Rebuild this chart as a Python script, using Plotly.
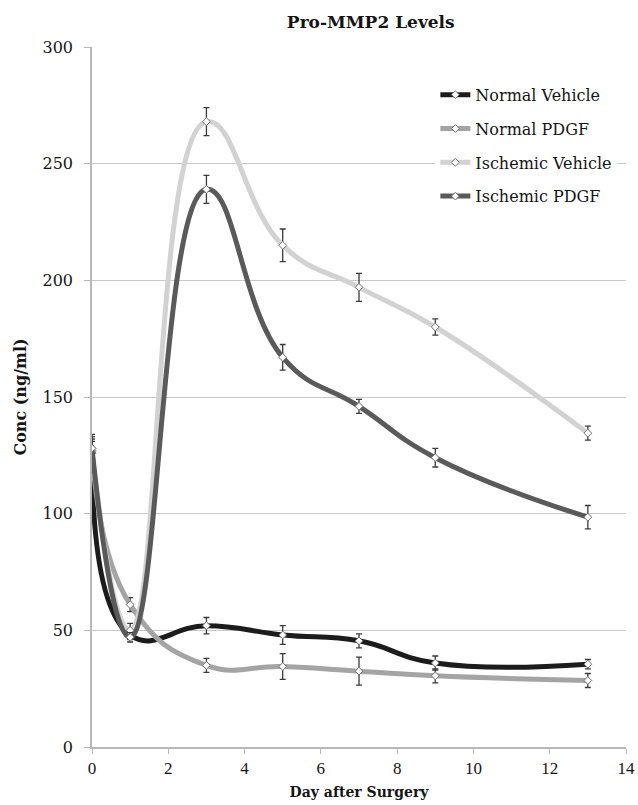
import plotly.graph_objects as go

days = [0, 1, 3, 5, 7, 9, 13]

series_names = ["Normal Vehicle", "Normal PDGF", "Ischemic Vehicle", "Ischemic PDGF"]

normal_vehicle = [128, 48, 52, 48, 45.5, 36, 35.5]
normal_vehicle_err = [5, 2, 3.5, 4, 3, 3, 2]

normal_pdgf = [127, 61, 35, 34.5, 32.5, 30.5, 28.5]
normal_pdgf_err = [5, 3, 3, 5.5, 6, 3, 3]

ischemic_vehicle = [126, 50, 268, 215, 197, 180, 134.5]
ischemic_vehicle_err = [5, 3, 6, 7, 6, 3.5, 3]

ischemic_pdgf = [128, 47, 239, 167, 146, 124, 98.5]
ischemic_pdgf_err = [6, 2, 6, 5.5, 3, 4, 5]

y_ticks = [0, 50, 100, 150, 200, 250, 300]
x_ticks = [0, 2, 4, 6, 8, 10, 12, 14]

colors = ["#1c1c1c", "#a4a4a4", "#d2d2d2", "#5a5a5a"]
values = [normal_vehicle, normal_pdgf, ischemic_vehicle, ischemic_pdgf]
errors = [normal_vehicle_err, normal_pdgf_err, ischemic_vehicle_err, ischemic_pdgf_err]

SERIF = "Liberation Serif, DejaVu Serif, serif"
DSERIF = "DejaVu Serif, serif"
TXT = "#151515"

fig = go.Figure()
for i, (name, y, e, c) in enumerate(zip(series_names, values, errors, colors)):
    fig.add_trace(go.Scatter(
        x=days, y=y, name=name, mode="lines+markers",
        legendgroup=f"g{i}",
        line=dict(color=c, width=5, shape="spline", smoothing=1.3),
        marker=dict(symbol="diamond", size=6, color="white",
                    line=dict(color="#707070", width=1)),
        error_y=dict(type="data", array=e, visible=True, color="#3a3a3a",
                     thickness=1.3, width=3),
    ))

fig.update_layout(
    width=638, height=805,
    margin=dict(l=92, r=12, t=47, b=58),
    paper_bgcolor="white", plot_bgcolor="white",
    font=dict(family=DSERIF, size=15, color=TXT),
    title=dict(text="<b>Pro-MMP2 Levels</b>", x=0.522, xref="paper", xanchor="center",
               y=1 - 22 / 805, yanchor="middle",
               font=dict(family=DSERIF, size=17, color=TXT)),
    showlegend=True,
    legend=dict(x=0.643, y=0.956, xanchor="left", yanchor="top",
                bgcolor="white", borderwidth=0,
                traceorder="grouped", tracegroupgap=10,
                font=dict(family=DSERIF, size=16, color=TXT)),
    xaxis=dict(
        range=[0, 14], tickvals=x_ticks, ticktext=[str(v) for v in x_ticks],
        showgrid=False, zeroline=False, automargin=False,
        showline=True, linecolor="#b8b8b8", linewidth=1.5,
        ticks="outside", ticklen=5, tickcolor="#b8b8b8",
        tickfont=dict(family=SERIF, size=17, color=TXT),
        title=dict(text="<b>Day after Surgery</b>", standoff=10,
                   font=dict(family=DSERIF, size=14, color=TXT)),
    ),
    yaxis=dict(
        range=[0, 300], tickvals=y_ticks, ticktext=[str(v) for v in y_ticks],
        showgrid=True, gridcolor="#c8c8c8", gridwidth=1.2, zeroline=False,
        automargin=False,
        showline=True, linecolor="#b8b8b8", linewidth=1.5,
        ticks="outside", ticklen=6, tickcolor="#b8b8b8",
        ticklabelstandoff=8,
        tickfont=dict(family=DSERIF, size=16, color=TXT),
        title=dict(text="<b>Conc (ng/ml)</b>", standoff=12,
                   font=dict(family=DSERIF, size=16, color=TXT)),
    ),
)

fig.write_html("out.html")
